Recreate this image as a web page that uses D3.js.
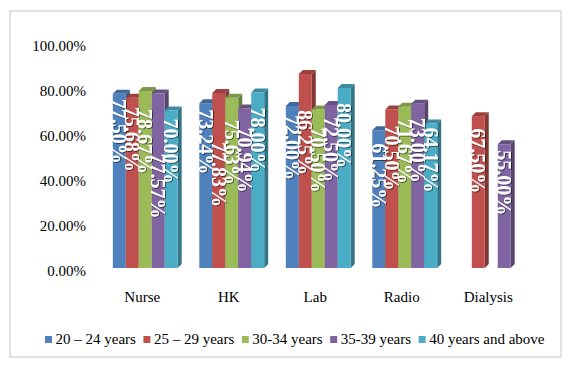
<!DOCTYPE html>
<html>
<head>
    <meta charset="utf-8">
    <title>Staff by age group</title>
    <script type="text/javascript" src="https://cdn.jsdelivr.net/npm/d3@7"></script>
    <style>
        body {
            margin: 0;
            background: #fff;
        }

        text {
            font-family: "Liberation Serif", "Times New Roman", serif;
        }

        .axis text {
            font-size: 15px;
            fill: #000;
        }

        .label {
            font-size: 20px;
            font-weight: bold;
            fill: #fff;
        }
    </style>
</head>

<body>

<script type="text/javascript">
    // data
    var categories = ["Nurse", "HK", "Lab", "Radio", "Dialysis"];
    var seriesNames = ["20 \u2013 24 years", "25 \u2013 29 years", "30-34 years", "35-39 years", "40 years and above"];
    var age20to24 = [77.50, 73.24, 72.00, 61.25, null];
    var age25to29 = [75.68, 77.83, 86.25, 70.50, 67.50];
    var age30to34 = [78.67, 75.63, 70.50, 71.67, null];
    var age35to39 = [77.57, 70.94, 72.50, 73.00, 55.00];
    var age40up = [70.00, 78.00, 80.00, 64.17, null];
    var tickValues = [0, 20, 40, 60, 80, 100];

    // layout only: how far each label starts below its bar top (px)
    var labelShift = [
        [5, 6, 9, 13, 0],
        [9, 49, 36, 16, 12],
        [18, 22, 18, 12, 0],
        [60, 19, 12, 14, 6],
        [8, 15, 15, 4, 0]
    ];

    var colors = ["#4F81BD", "#C0504D", "#9BBB59", "#8064A2", "#4BACC6"];
    var series = [age20to24, age25to29, age30to34, age35to39, age40up];

    var width = 583,
            height = 375,
            depth = 4;

    var svg = d3.select("body").append("svg")
            .attr("width", width)
            .attr("height", height);

    var shadow = svg.append("defs").append("filter")
            .attr("id", "shadow")
            .attr("x", "-20%").attr("y", "-20%")
            .attr("width", "140%").attr("height", "140%");
    shadow.append("feDropShadow")
            .attr("dx", 0.8).attr("dy", 0.8)
            .attr("stdDeviation", 0.5)
            .attr("flood-color", "#000")
            .attr("flood-opacity", 0.65);

    // chart border
    svg.append("rect")
            .attr("x", 10).attr("y", 11)
            .attr("width", 551).attr("height", 346)
            .attr("fill", "none")
            .attr("stroke", "#d9d9d9")
            .attr("stroke-width", 1.5);

    var x = d3.scaleBand()
            .domain(categories)
            .range([102, 534.5])
            .paddingInner(0.25)
            .paddingOuter(0.125);

    var xs = d3.scaleBand()
            .domain(d3.range(series.length))
            .range([0, x.bandwidth()]);

    var y = d3.scaleLinear()
            .domain([0, 100])
            .range([268, 43]);

    // y axis labels
    svg.append("g")
            .attr("class", "axis")
            .attr("transform", "translate(86,3)")
            .call(d3.axisLeft(y)
                    .tickValues(tickValues)
                    .tickSize(0)
                    .tickPadding(0)
                    .tickFormat(function (d) { return d.toFixed(2) + "%"; }))
            .call(function (g) { g.select(".domain").remove(); });

    // category labels
    svg.append("g")
            .attr("class", "axis")
            .attr("transform", "translate(-3,291)")
            .call(d3.axisBottom(x).tickSize(0).tickPadding(0))
            .call(function (g) { g.select(".domain").remove(); });

    // bars, drawn left to right so each one hides its neighbour's side
    var bars = [];
    categories.forEach(function (c, ci) {
        series.forEach(function (s, si) {
            if (s[ci] == null) return;
            bars.push({cat: c, ci: ci, si: si, value: s[ci]});
        });
    });

    var barG = svg.append("g");
    bars.forEach(function (b) {
        var x0 = x(b.cat) + xs(b.si),
                w = xs.bandwidth(),
                top = y(b.value),
                base = y(0),
                col = d3.color(colors[b.si]);

        // side
        barG.append("path")
                .attr("d", "M" + (x0 + w) + "," + top + "L" + (x0 + w + depth) + "," + (top - depth)
                        + "L" + (x0 + w + depth) + "," + (base - depth) + "L" + (x0 + w) + "," + base + "Z")
                .attr("fill", col.darker(1.1));
        // top
        barG.append("path")
                .attr("d", "M" + x0 + "," + top + "L" + (x0 + depth) + "," + (top - depth)
                        + "L" + (x0 + w + depth) + "," + (top - depth) + "L" + (x0 + w) + "," + top + "Z")
                .attr("fill", col.darker(0.6));
        // front
        barG.append("rect")
                .attr("x", x0)
                .attr("y", top)
                .attr("width", w)
                .attr("height", base - top)
                .attr("fill", col);
    });

    // value labels, rotated to read downwards
    svg.append("g")
            .attr("filter", "url(#shadow)")
            .selectAll("text")
            .data(bars)
            .enter()
            .append("text")
            .attr("class", "label")
            .attr("transform", function (b) {
                var cx = x(b.cat) + xs(b.si) + xs.bandwidth() / 2;
                return "translate(" + cx + "," + (y(b.value) + labelShift[b.si][b.ci]) + ")rotate(90)";
            })
            .attr("dy", "0.35em")
            .text(function (b) { return b.value.toFixed(2) + "%"; });

    // legend
    var legend = svg.append("g");
    var lx = 45;
    seriesNames.forEach(function (name, i) {
        legend.append("rect")
                .attr("x", lx)
                .attr("y", 336)
                .attr("width", 7)
                .attr("height", 7)
                .attr("fill", colors[i]);
        var t = legend.append("text")
                .attr("x", lx + 10.5)
                .attr("y", 344)
                .style("font-size", "15px")
                .text(name);
        lx += 10.5 + t.node().getComputedTextLength() + 7.5;
    });
</script>

</body>

</html>
